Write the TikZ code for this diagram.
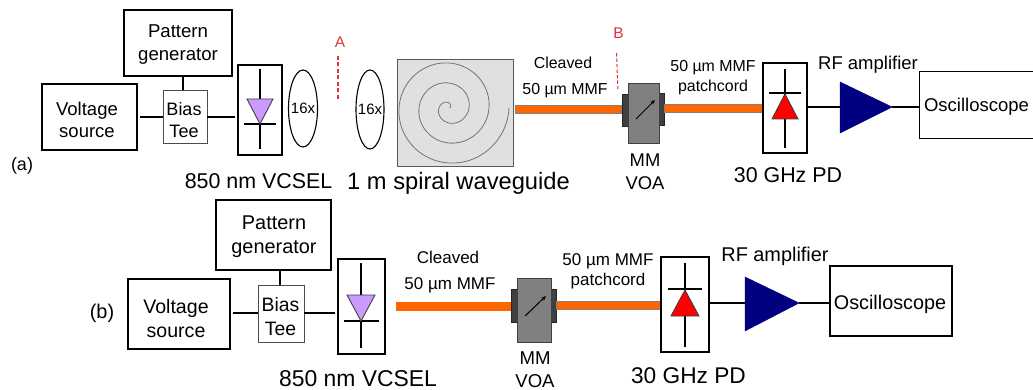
\documentclass[tikz,border=0pt]{standalone}
\usepackage{fontspec}
\setmainfont{Liberation Sans}
\usetikzlibrary{arrows.meta,shapes.geometric}
\definecolor{vcselfill}{HTML}{CC99FF}
\definecolor{fibre}{HTML}{FF6600}
\definecolor{ampblue}{HTML}{000080}
\definecolor{markred}{HTML}{E8303A}
\newcommand\fsz[2]{\fontsize{#1}{#2}\selectfont}
\tikzset{
  box/.style={draw=black,line width=1.2pt,fill=white,inner sep=0pt,align=center},
  teebox/.style={draw=black!70,line width=0.9pt,fill=white,inner sep=0pt,align=center},
  lensshape/.style={ellipse,draw=black,line width=1.1pt,inner sep=0pt},
  wire/.style={draw=black,line width=1.6pt},
  devline/.style={draw=black,line width=1.1pt},
  fibreseg/.style={rectangle,draw=black!50,fill=fibre,line width=1pt,inner sep=0pt},
  voabody/.style={rectangle,draw=black!75,fill=black!50,line width=1pt,inner sep=0pt},
  voaside/.style={rectangle,draw=black!85,fill=black!75,line width=0.6pt,inner sep=0pt},
  amptri/.style={draw=ampblue,fill=ampblue,line width=0.5pt},
  marker/.style={draw=markred,line width=1.2pt,dash pattern=on 4pt off 2.5pt},
  txt/.style={inner sep=0pt,align=center},
}
\begin{document}
\begin{tikzpicture}[x=1pt,y=-1pt]
\useasboundingbox (0,0) rectangle (1033,390);
\fill[white] (0,0) rectangle (1033,390);

%% ---------- panel (a)
\node[txt,font=\fsz{18}{22}] (la) at (22,166) {(a)};
\node[box,minimum width=108,minimum height=66] (pata) at (178,43) {};
\node[txt,font=\fsz{18.6}{23}] (patat) at (178,45) {Pattern\\generator};
\node[box,minimum width=95,minimum height=66] (volta) at (89.5,117) {};
\node[txt,font=\fsz{18.5}{22}] (voltat) at (87,120) {Voltage\\source};
\node[teebox,minimum width=44,minimum height=53] (teea) at (185,117) {};
\node[txt,font=\fsz{18}{22}] (teeat) at (184,120.5) {Bias\\Tee};
\node[box,minimum width=44,minimum height=90] (vcsa) at (260,110) {};
\draw[devline] (260,69) -- (260,149);
\draw[devline] (244,124) -- (276,124);
\draw[draw=black!75,fill=vcselfill,line width=0.9pt] (247,99) -- (273,99) -- (260,124) -- cycle;
\draw[wire,shorten <=2pt] (volta.east) -- (volta.east -| teea.west);
\draw[wire,shorten >=2pt] (teea.east) -- (teea.east -| vcsa.west);
\draw[wire] ([xshift=-2pt]teea.north) -- ([xshift=-2pt]teea.north |- pata.south);
\node[txt,font=\fsz{21.4}{25}] (vlaba) at (258.5,181) {850 nm VCSEL};

\node[lensshape,minimum width=29,minimum height=77] (l1) at (303,108.5) {};
\node[txt,font=\fsz{15}{18}] at (l1) {16x};
\node[lensshape,minimum width=28,minimum height=79] (l2) at (370,109.5) {};
\node[txt,font=\fsz{15}{18}] at (l2) {16x};
\node[txt,text=markred,font=\fsz{15.5}{18}] (ma) at (340,42) {A};
\coordinate (ma1) at (338,56);
\coordinate (ma2) at (338,100);
\draw[marker] (ma1) -- (ma2);

\node[rectangle,draw=black!65,fill=black!12,line width=1pt,minimum width=116,minimum height=107,inner sep=0pt] (wg) at (455,113.5) {};
\draw[black!55,line width=0.8pt] plot[smooth,samples=240,domain=0:1070,variable=\t] ({449+(60-10*\t/180)*cos(\t)},{108+(60-10*\t/180)*sin(\t)});
\node[txt,font=\fsz{23.7}{28}] (wglab) at (458.5,183) {1 m spiral waveguide};

\node[fibreseg,minimum width=106,minimum height=8] (fa1) at (568,109.5) {};
\node[txt,font=\fsz{15.9}{18}] at (563,63) {Cleaved};
\node[txt,font=\fsz{15.9}{18}] at (565,91) {50 µm MMF};
\node[txt,text=markred,font=\fsz{15.5}{18}] (mb) at (618.5,33) {B};
\coordinate (mb1) at (616.5,53);
\coordinate (mb2) at (618,91);
\draw[marker,line width=1pt,dash pattern=on 3.5pt off 2pt] (mb1) -- (mb2);

\node[voaside,minimum width=6,minimum height=32] (vla) at (625.5,110) {};
\node[voaside,minimum width=6,minimum height=32] (vra) at (661,109) {};
\node[voabody,minimum width=31,minimum height=60] (voaa) at (643.5,114) {};
\coordinate (aa1) at (636,119);
\coordinate (aa2) at (655,100);
\draw[black,line width=1pt,-{Stealth[length=5pt,width=4pt]}] (aa1) -- (aa2);
\node[txt,font=\fsz{18.4}{23}] at (645,171.5) {MM\\VOA};

\node[fibreseg,minimum width=98,minimum height=8] (fa2) at (713,108.5) {};
\node[txt,font=\fsz{15.9}{20}] at (713,77.5) {50 µm MMF\\patchcord};

\node[box,minimum width=44,minimum height=90] (pda) at (785,108) {};
\draw[devline] (785,69) -- (785,148);
\draw[devline] (769,93) -- (801,93);
\draw[draw=black!75,fill=red,line width=0.9pt] (785,94) -- (798,119) -- (772,119) -- cycle;
\node[txt,font=\fsz{21.4}{25}] at (788,175) {30 GHz PD};

\coordinate (ampain) at (840,107);
\coordinate (ampaout) at (892,107);
\draw[amptri] (840,82) -- (892,107) -- (840,133) -- cycle;
\node[txt,font=\fsz{18.5}{22}] at (868,64.5) {RF amplifier};
\node[inner sep=0pt,minimum width=113,minimum height=66] (osca) at (976.5,105) {};
\node[txt,font=\fsz{18.5}{22}] (oscat) at (976.5,107) {Oscilloscope};
\draw[box,fill=none] (osca.north east) -- (osca.north west) -- (osca.south west) -- (osca.south east);
\draw[wire] (pda.east |- ampain) -- (ampain);
\draw[wire] (ampaout) -- (ampaout -| osca.west);

%% ---------- panel (b)
\node[txt,font=\fsz{19.9}{24}] (lb) at (102,313) {(b)};
\node[box,minimum width=115,minimum height=70] (patb) at (273.5,235) {};
\node[txt,font=\fsz{19.9}{24}] (patbt) at (274,237) {Pattern\\generator};
\node[box,minimum width=102,minimum height=70] (voltb) at (179,314) {};
\node[txt,font=\fsz{19.6}{24}] (voltbt) at (176,318) {Voltage\\source};
\node[teebox,minimum width=46,minimum height=57] (teeb) at (281,314) {};
\node[txt,font=\fsz{19.4}{24}] (teebt) at (280.5,316.5) {Bias\\Tee};
\node[box,minimum width=47,minimum height=95] (vcsb) at (361.5,306.5) {};
\draw[devline] (361,263) -- (361,348);
\draw[devline] (344,321) -- (379,321);
\draw[draw=black!75,fill=vcselfill,line width=0.9pt] (347,295) -- (375,295) -- (361,321) -- cycle;
\draw[wire,shorten <=2pt] ([yshift=1pt]voltb.east) -- ([yshift=1pt]voltb.east -| teeb.west);
\draw[wire,shorten >=2pt] ([yshift=1pt]teeb.east) -- ([yshift=1pt]teeb.east -| vcsb.west);
\draw[wire] ([xshift=-1pt]teeb.north) -- ([xshift=-1pt]teeb.north |- patb.south);
\node[txt,font=\fsz{22.9}{27}] at (358,378.5) {850 nm VCSEL};

\node[fibreseg,minimum width=114,minimum height=8,draw=fibre] (fb1) at (453,306) {};
\node[txt,font=\fsz{17}{20}] at (448,257) {Cleaved};
\node[txt,font=\fsz{17}{20}] at (450,285.5) {50 µm MMF};

\node[voaside,minimum width=6,minimum height=33] (vlb) at (514,305.5) {};
\node[voaside,minimum width=6,minimum height=33] (vrb) at (553,305.5) {};
\node[voabody,minimum width=34,minimum height=64] (voab) at (534,310) {};
\coordinate (ab1) at (525,316);
\coordinate (ab2) at (546,296);
\draw[black,line width=1pt,-{Stealth[length=5pt,width=4pt]}] (ab1) -- (ab2);
\node[txt,font=\fsz{18.6}{23}] at (535,370) {MM\\VOA};

\node[fibreseg,minimum width=105,minimum height=8] (fb2) at (608.5,305) {};
\node[txt,font=\fsz{17}{20}] at (608,271.5) {50 µm MMF\\patchcord};

\node[box,minimum width=48,minimum height=95] (pdb) at (685,304.5) {};
\draw[devline] (685,263) -- (685,347);
\draw[devline] (668,289) -- (702,289);
\draw[draw=black!75,fill=red,line width=0.9pt] (685,290) -- (699,316) -- (671,316) -- cycle;
\node[txt,font=\fsz{22.7}{27}] at (688.5,376) {30 GHz PD};

\coordinate (ampbin) at (745,303);
\coordinate (ampbout) at (799,303);
\draw[amptri] (745,277) -- (799,303) -- (745,331) -- cycle;
\node[txt,font=\fsz{19.9}{24}] at (775,256.5) {RF amplifier};
\node[box,minimum width=122,minimum height=70] (oscb) at (891,301) {};
\node[txt,font=\fsz{19.8}{24}] (oscbt) at (890,304) {Oscilloscope};
\draw[wire] (pdb.east |- ampbin) -- (ampbin);
\draw[wire] (ampbout) -- (ampbout -| oscb.west);
\end{tikzpicture}
\end{document}
